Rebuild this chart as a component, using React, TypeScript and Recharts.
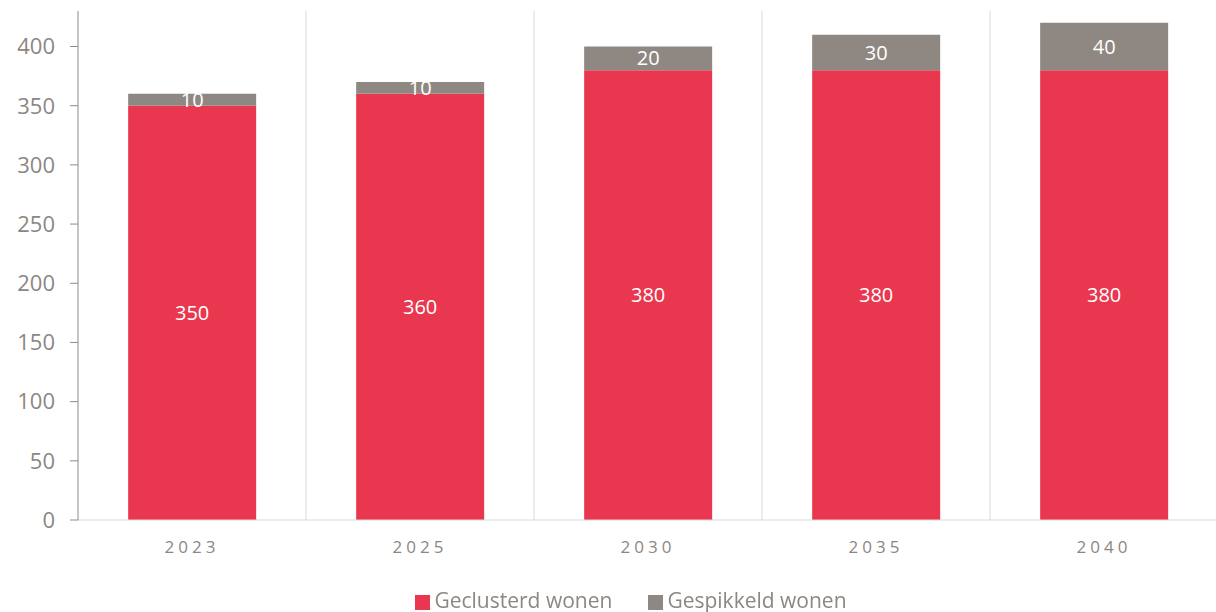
import { BarChart, Bar, XAxis, YAxis, CartesianGrid, Legend, LabelList } from 'recharts';

const years = ['2023', '2025', '2030', '2035', '2040'];
const geclusterd = [350, 360, 380, 380, 380];
const gespikkeld = [10, 10, 20, 30, 40];
const yTicks = [0, 50, 100, 150, 200, 250, 300, 350, 400];

const data = years.map((year, i) => ({
  year,
  geclusterd: geclusterd[i],
  gespikkeld: gespikkeld[i],
}));

const RED = '#e8374f';
const GREY = '#8f8882';
const TEXT = '#8c8783';
const FONT = '"Open Sans", sans-serif';

export default function App() {
  return (
    <div style={{ position: 'fixed', left: 0, top: 0, width: 1216, height: 612, background: '#fff', fontFamily: FONT }}>
      <BarChart
        width={1216}
        height={612}
        data={data}
        margin={{ top: 11, right: -2, left: 0, bottom: -8 }}
        barCategoryGap="22%"
      >
        <CartesianGrid
          horizontal={false}
          stroke="#d9d9d9"
          verticalCoordinatesGenerator={({ offset }: any) =>
            years.map((_, i) => offset.left + ((i + 1) * offset.width) / years.length)
          }
        />
        <XAxis
          dataKey="year"
          height={66}
          stroke="#d9d9d9"
          tickLine={false}
          tickMargin={15}
          tick={{ fill: TEXT, fontSize: 17, letterSpacing: 4, fontFamily: FONT }}
        />
        <YAxis
          width={78}
          domain={[0, 430]}
          ticks={yTicks}
          stroke="#8c8c8c"
          tickSize={8}
          tickMargin={15}
          tick={{ fill: TEXT, fontSize: 22, fontFamily: FONT }}
        />
        <Legend
          verticalAlign="bottom"
          iconType="square"
          iconSize={15}
          height={34}
          wrapperStyle={{ fontSize: 21, fontFamily: FONT, paddingLeft: 40 }}
          formatter={(value: string) => <span style={{ color: TEXT, marginRight: 26 }}>{value}</span>}
        />
        <Bar dataKey="geclusterd" name="Geclusterd wonen" stackId="a" fill={RED} isAnimationActive={false}>
          <LabelList dataKey="geclusterd" position="center" fill="#ffffff" fontSize={20} fontFamily={FONT} />
        </Bar>
        <Bar dataKey="gespikkeld" name="Gespikkeld wonen" stackId="a" fill={GREY} isAnimationActive={false}>
          <LabelList dataKey="gespikkeld" position="center" fill="#ffffff" fontSize={20} fontFamily={FONT} />
        </Bar>
      </BarChart>
    </div>
  );
}
